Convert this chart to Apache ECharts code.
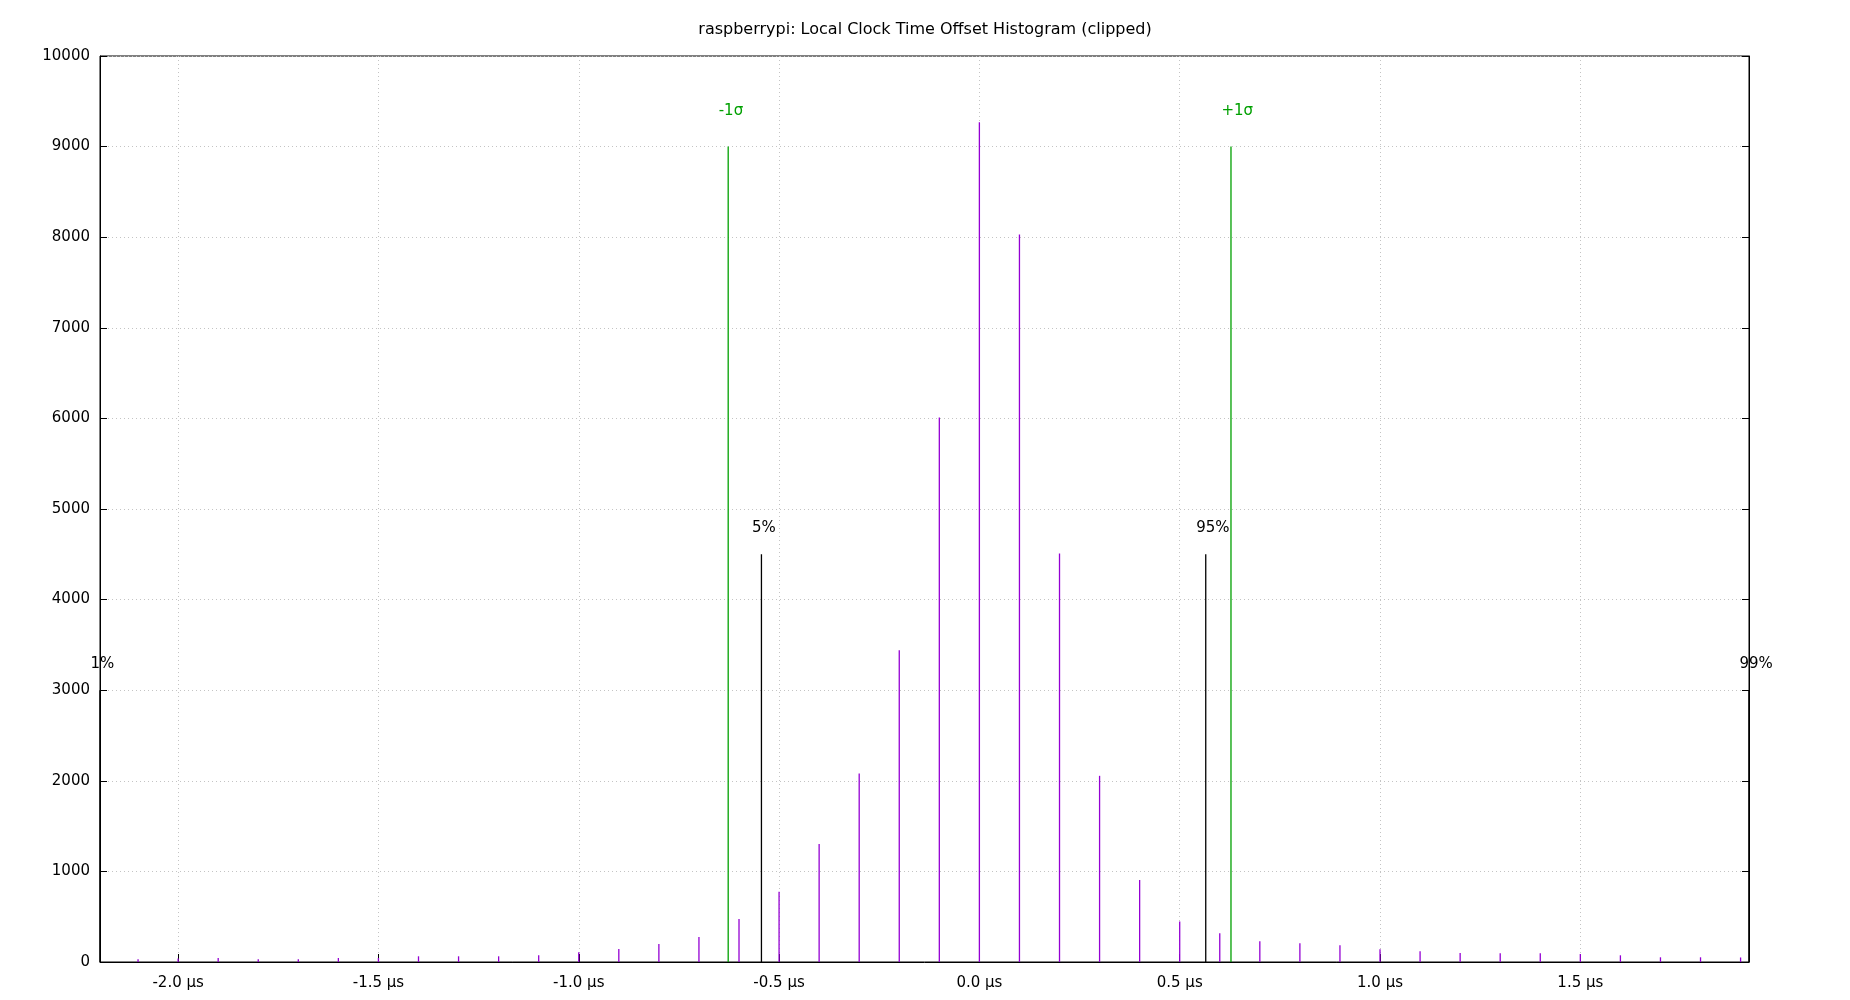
<!DOCTYPE html>
<html>
<head>
<meta charset="utf-8">
<script src="https://cdn.jsdelivr.net/npm/echarts@6/dist/echarts.min.js"></script>
<style>
html,body{margin:0;padding:0;background:#fff;}
#chart{width:1850px;height:1000px;}
</style>
</head>
<body>
<div id="chart"></div>
<script>
// Histogram bins (offset in microseconds) and counts
const offsets = [-2.1,-2.0,-1.9,-1.8,-1.7,-1.6,-1.5,-1.4,-1.3,-1.2,-1.1,-1.0,-0.9,-0.8,-0.7,-0.6,-0.5,-0.4,-0.3,-0.2,-0.1,
                 0.0,0.1,0.2,0.3,0.4,0.5,0.6,0.7,0.8,0.9,1.0,1.1,1.2,1.3,1.4,1.5,1.6,1.7,1.8,1.9];
const counts = [30,40,44,30,30,44,45,63,63,63,74,107,143,199,276,475,776,1302,2080,3440,6010,
                9270,8030,4510,2055,905,448,318,230,208,186,140,120,98,97,96,88,74,52,52,50];

// Percentile / sigma markers
const markerNames = ['1%','5%','-1σ','+1σ','95%','99%'];
const markerValues = [-2.195,-0.544,-0.627,0.628,0.565,1.921];
const markerHeights = [3000,4500,9000,9000,4500,3000];

// Axis ranges and tick labels
const xMin = -2.195, xMax = 1.921;
const xTickValues = [-2.0,-1.5,-1.0,-0.5,0.0,0.5,1.0,1.5];
const yMin = 0, yMax = 10000, yStep = 1000;

const titleText = 'raspberrypi: Local Clock Time Offset Histogram (clipped)';

const FONT = 'DejaVu Sans';
const GREEN = '#00a000';
const PURPLE = '#9400d3';
const gridLine = {show:true, lineStyle:{color:'#c4c4c4', width:1, type:[1,3]}};

const chart = echarts.init(document.getElementById('chart'), null, {renderer:'canvas'});

const markerData = markerNames.map((name, i) => {
  const sigma = name.indexOf('σ') >= 0;
  const color = sigma ? GREEN : '#000';
  return {
    value: [markerValues[i], markerHeights[i]],
    itemStyle: {color: color},
    label: {
      show: true,
      position: 'top',
      formatter: name,
      color: color,
      align: 'left',
      offset: [-9.5, 0],
      distance: sigma ? 27.5 : 18,
      fontSize: 15,
      lineHeight: 16,
      fontFamily: FONT
    }
  };
});

chart.setOption({
  animation: false,
  backgroundColor: '#fff',
  title: {
    text: titleText,
    left: 'center',
    top: 16,
    textStyle: {fontSize: 16, fontWeight: 'normal', fontFamily: FONT, color: '#000', lineHeight: 18}
  },
  grid: {
    left: 100, right: 101, top: 56, bottom: 38,
    show: true, borderColor: '#000', borderWidth: 1, backgroundColor: 'transparent'
  },
  xAxis: {
    type: 'value',
    min: xMin, max: xMax,
    axisLine: {show: true, onZero: false, lineStyle: {color: '#000', width: 1}},
    axisTick: {show: true, inside: true, length: 8, customValues: xTickValues, lineStyle: {color: '#000'}},
    axisLabel: {
      customValues: xTickValues,
      formatter: v => v.toFixed(1) + ' μs',
      margin: 14, color: '#000', fontSize: 15, fontFamily: FONT
    },
    splitLine: gridLine
  },
  yAxis: [
    {
      type: 'value', min: yMin, max: yMax, interval: yStep, position: 'left',
      axisLine: {show: true, onZero: false, lineStyle: {color: '#000', width: 1}},
      axisTick: {show: true, inside: true, length: 7, lineStyle: {color: '#000'}},
      axisLabel: {margin: 10, color: '#000', fontSize: 15, fontFamily: FONT, formatter: v => String(v)},
      splitLine: gridLine
    },
    {
      type: 'value', min: yMin, max: yMax, interval: yStep, position: 'right',
      axisLine: {show: true, onZero: false, lineStyle: {color: '#000', width: 1}},
      axisTick: {show: true, inside: true, length: 7, lineStyle: {color: '#000'}},
      axisLabel: {show: false},
      splitLine: {show: false}
    }
  ],
  series: [
    {
      type: 'bar',
      name: 'histogram',
      yAxisIndex: 0,
      data: offsets.map((x, i) => [x, counts[i]]),
      barWidth: 1.3,
      barGap: '-100%',
      itemStyle: {color: PURPLE},
      silent: true
    },
    {
      type: 'bar',
      name: 'markers',
      yAxisIndex: 0,
      data: markerData,
      barWidth: 1.3,
      barGap: '-100%',
      clip: false,
      silent: true
    }
  ]
});
</script>
</body>
</html>
